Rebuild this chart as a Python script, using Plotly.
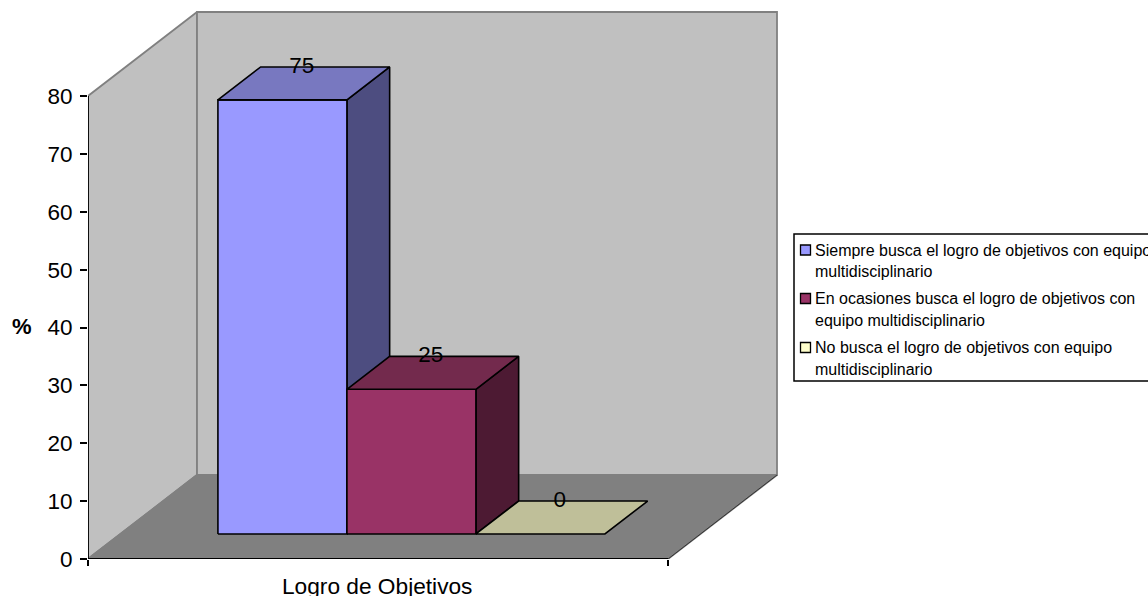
import plotly.graph_objects as go

# ---- data ----
series_names = [
    "Siempre busca el logro de objetivos con equipo multidisciplinario",
    "En ocasiones busca el logro de objetivos con equipo multidisciplinario",
    "No busca el logro de objetivos con equipo multidisciplinario",
]
legend_lines = [
    ["Siempre busca el logro de objetivos con equipo", "multidisciplinario"],
    ["En ocasiones busca el logro de objetivos con", "equipo multidisciplinario"],
    ["No busca el logro de objetivos con equipo", "multidisciplinario"],
]
values = [75, 25, 0]
category = "Logro de Objetivos"
y_ticks = [0, 10, 20, 30, 40, 50, 60, 70, 80]
front_colors = ["#9999FF", "#993366", "#FFFFCC"]
top_colors = ["#7878C0", "#732A4D", "#BFBF99"]
side_colors = ["#4D4D80", "#4D1A33", "#808066"]

# ---- geometry of the pseudo-3D projection ----
W, H = 1148, 596
ML, MB = 88, 37          # plot origin in pixels
PX_PER_X = 580.0         # pixels per category unit
PX_PER_Y = 463 / 80      # pixels per value unit
DEPTH_X = 109 / PX_PER_X
DEPTH_Y = 84 / PX_PER_Y
Y_MAX_AXIS = 80
BAR_W = 129 / PX_PER_X
GAP = 0.168
D_FRONT, D_BACK = 0.298, 0.69


def proj(x, v, d):
    return x + d * DEPTH_X, v + d * DEPTH_Y


def poly(points, fill, line="black", width=1.6):
    xs, ys = zip(*[proj(*p) for p in points + points[:1]])
    return go.Scatter(x=xs, y=ys, mode="lines", fill="toself", fillcolor=fill,
                      line=dict(color=line, width=width), hoverinfo="skip",
                      showlegend=False, cliponaxis=False)


fig = go.Figure()
# walls and floor
fig.add_trace(poly([(0, 0, 0), (0, 0, 1), (0, Y_MAX_AXIS, 1), (0, Y_MAX_AXIS, 0)], "#C0C0C0", "#808080", 1.8))
fig.add_trace(poly([(0, 0, 1), (1, 0, 1), (1, Y_MAX_AXIS, 1), (0, Y_MAX_AXIS, 1)], "#C0C0C0", "#808080", 1.8))
fig.add_trace(poly([(0, 0, 0), (1, 0, 0), (1, 0, 1), (0, 0, 1)], "#808080", "#808080", 1.8))
fig.add_trace(go.Scatter(x=[1, 1 + DEPTH_X], y=[0, DEPTH_Y], mode="lines",
                         line=dict(color="#333333", width=1), hoverinfo="skip", showlegend=False))

# bars
label_x, label_y = [], []
for i, v in enumerate(values):
    x0 = GAP + i * BAR_W
    x1 = x0 + BAR_W
    if v > 0:
        fig.add_trace(poly([(x1, 0, D_FRONT), (x1, 0, D_BACK), (x1, v, D_BACK), (x1, v, D_FRONT)], side_colors[i]))
        fig.add_trace(poly([(x0, 0, D_FRONT), (x1, 0, D_FRONT), (x1, v, D_FRONT), (x0, v, D_FRONT)], front_colors[i]))
    fig.add_trace(poly([(x0, v, D_FRONT), (x1, v, D_FRONT), (x1, v, D_BACK), (x0, v, D_BACK)], top_colors[i]))
    lx, ly = proj((x0 + x1) / 2, v, D_BACK)
    label_x.append(lx - 2 / PX_PER_X - (D_BACK - D_FRONT) * DEPTH_X / 2)
    label_y.append(ly)

# axis lines
fig.add_trace(go.Scatter(x=[0, 0], y=[0, Y_MAX_AXIS], mode="lines", line=dict(color="black", width=1.8),
                         hoverinfo="skip", showlegend=False, cliponaxis=False))
fig.add_trace(go.Scatter(x=[0, 1], y=[0, 0], mode="lines", line=dict(color="black", width=1.8),
                         hoverinfo="skip", showlegend=False, cliponaxis=False))

# data labels
fig.add_trace(go.Scatter(x=label_x, y=label_y, mode="text", text=[str(v) for v in values],
                         textposition="middle center",
                         textfont=dict(family="Liberation Sans", size=22.5, color="black"),
                         hoverinfo="skip", showlegend=False, cliponaxis=False))


def px_x(p):
    return (p - ML) / (W - ML)


def px_y(p):
    return (H - MB - p) / (H - MB)


# legend box
shapes = [dict(type="rect", xref="paper", yref="paper", x0=px_x(794), x1=px_x(1160),
               y0=px_y(381), y1=px_y(234),
               fillcolor="white", line=dict(color="black", width=1.5), layer="above")]
annotations = []

line_y = [[250, 271], [298.5, 320], [347.5, 369]]
for i, lines in enumerate(legend_lines):
    sy = line_y[i][0]
    shapes.append(dict(type="rect", xref="paper", yref="paper", x0=px_x(800.5), x1=px_x(810.5),
                       y0=px_y(sy + 5), y1=px_y(sy - 5), fillcolor=front_colors[i],
                       line=dict(color="black", width=1.3), layer="above"))
    for text, y in zip(lines, line_y[i]):
        annotations.append(dict(text=text, xref="paper", yref="paper", x=px_x(813), y=px_y(y),
                                xanchor="left", yanchor="middle", showarrow=False, align="left",
                                font=dict(family="Liberation Sans", size=16, color="black")))

annotations.append(dict(text=category, xref="paper", yref="paper", x=px_x(376.5), y=px_y(586), xanchor="center",
                        yanchor="middle", showarrow=False,
                        font=dict(family="Liberation Sans", size=22.7, color="black")))
annotations.append(dict(text="<b>%</b>", xref="paper", yref="paper", x=px_x(21.5), y=px_y(327), xanchor="center",
                        yanchor="middle", showarrow=False,
                        font=dict(family="Liberation Sans", size=22, color="black")))

fig.update_layout(
    width=W, height=H, margin=dict(l=ML, r=0, t=0, b=MB, pad=0),
    paper_bgcolor="white", plot_bgcolor="white", showlegend=False,
    xaxis=dict(range=[0, (W - ML) / PX_PER_X], showgrid=False, zeroline=False, showline=False,
               tickmode="array", tickvals=[0, 1], ticktext=["", ""], ticks="outside", ticklen=6,
               tickcolor="black", tickwidth=1.5),
    yaxis=dict(range=[0, (H - MB) / PX_PER_Y], showgrid=False, zeroline=False, showline=False,
               tickmode="array", tickvals=y_ticks, ticks="outside", ticklen=7, tickcolor="black", tickwidth=1.5,
               ticklabelstandoff=3,
               tickfont=dict(family="Liberation Sans", size=22.5, color="black")),
    shapes=shapes, annotations=annotations,
)

fig.write_html("out.html", config=dict(displayModeBar=False),
               post_script="document.body.style.margin='0';document.body.style.overflow='hidden';")
